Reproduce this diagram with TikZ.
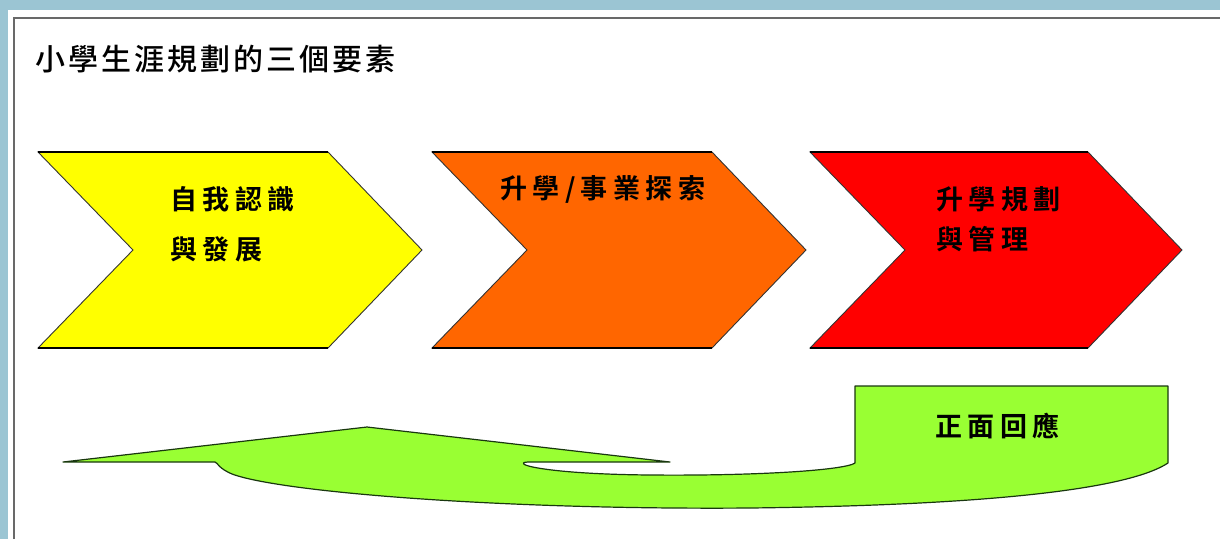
\documentclass[tikz,border=0pt]{standalone}
\usepackage{fontspec}
\newfontfamily\titlefont[LetterSpace=10]{Noto Sans CJK TC Medium}
\newfontfamily\labelfont[LetterSpace=20]{Noto Sans CJK TC Bold}
\definecolor{colorFrame}{RGB}{155,197,211}
\definecolor{colorLine}{RGB}{105,105,105}
\definecolor{colorSelf}{RGB}{255,255,0}
\definecolor{colorExplore}{RGB}{255,102,0}
\definecolor{colorPlan}{RGB}{255,0,0}
\definecolor{colorBack}{RGB}{153,255,51}
\definecolor{colorBackLine}{RGB}{25,55,15}
\tikzset{
   frameline/.style={draw=colorLine,line width=1.6pt},
   chevron/.style={fill=#1,draw=black!80,line width=0.9pt,line join=miter},
   chevedge/.style={draw=black,line width=2pt},
   feedback/.style={fill=colorBack,draw=colorBackLine,line width=1.2pt,line join=round},
   chevtext/.style={font=\labelfont\fontsize{27}{#1}\selectfont,align=left,anchor=north west,inner sep=0pt},
}

\begin{document}
\begin{tikzpicture}[x=1pt,y=-1pt]

        \useasboundingbox (0,0) rectangle (1220,539);

        % frame
        \fill[colorFrame] (0,0) rectangle (1220,10);
        \fill[colorFrame] (0,0) rectangle (8,539);
        \draw[frameline] (14,539) -- (14,18) -- (1220,18);

        \node[anchor=north west,inner sep=0pt,font=\titlefont\fontsize{30}{36}\selectfont]
             (title) at (35,45) {小學生涯規劃的三個要素};

        % the three steps
        \foreach \x/\w/\col in {38/290/colorSelf, 432/280/colorExplore, 810/278/colorPlan} {
          \draw[chevron=\col] (\x,152) -- (\x+\w,152) -- (\x+\w+94,250)
               -- (\x+\w,348) -- (\x,348) -- (\x+95,250) -- cycle;
          \draw[chevedge] (\x,152) -- (\x+\w,152);
          \draw[chevedge] (\x,348) -- (\x+\w,348);
        }

        \node[chevtext=50] (self)    at (170,186) {自我認識\\與發展};
        \node[chevtext=34] (explore) at (500,175) {升學/事業探索};
        \node[chevtext=40] (plan)    at (936,186) {升學規劃\\與管理};

        % feedback arrow
        \draw[feedback] (63,462) -- (367,427) -- (670,462) -- (528,462)
              .. controls (510,463) and (540,474) .. (650,475)
              .. controls (760,476) and (845,470) .. (855,463)
              -- (855,386) -- (1168,386) -- (1168,463)
              .. controls (1130,488) and (1000,505) .. (750,508)
              .. controls (500,510) and (280,492) .. (232,474)
              .. controls (218,468) and (218,463) .. (215,462) -- cycle;

        \node[chevtext=34] (reply) at (935,413) {正面回應};

      \end{tikzpicture}
\end{document}
